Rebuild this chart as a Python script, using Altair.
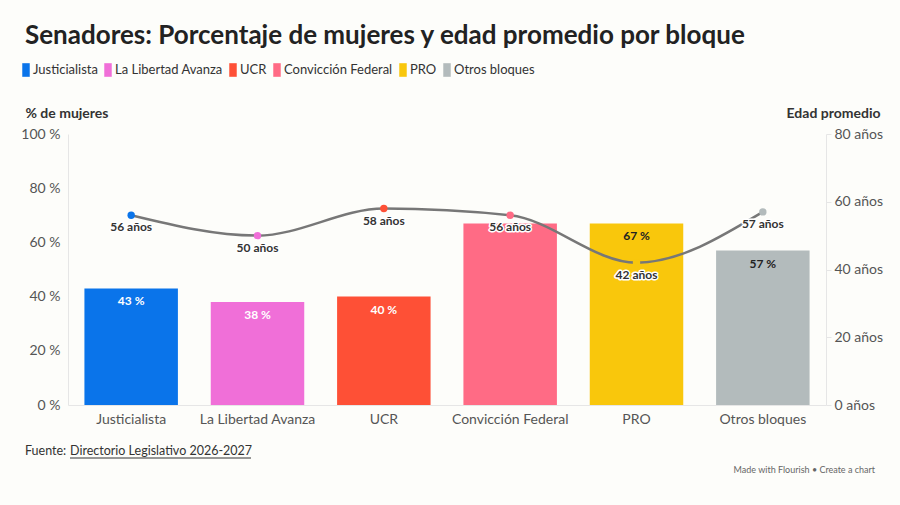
import altair as alt
import pandas as pd

# ---------------- data ----------------
bloques = ["Justicialista", "La Libertad Avanza", "UCR", "Convicción Federal", "PRO", "Otros bloques"]
pct_mujeres = [43, 38, 40, 67, 67, 57]
edad_promedio = [56, 50, 58, 56, 42, 57]
colores = ["#0a74ea", "#f06fd8", "#fe5036", "#ff6b85", "#f9c70c", "#b3bbbc"]
pct_ticks = [0, 20, 40, 60, 80, 100]
edad_ticks = [0, 20, 40, 60, 80]

titulo = "Senadores: Porcentaje de mujeres y edad promedio por bloque"
fuente_pre = "Fuente: "
fuente_link = "Directorio Legislativo 2026-2027"
credito = "Made with Flourish • Create a chart"

# bar labels hidden where they collide with an age label, dark text on light bars
ocultar_label = {"Convicción Federal"}
label_oscuro = {"PRO", "Otros bloques"}

df = pd.DataFrame({
    "bloque": bloques,
    "pct": pct_mujeres,
    "edad": edad_promedio,
})
df["pct_txt"] = df["pct"].astype(str) + " %"
df["edad_txt"] = df["edad"].astype(str) + " años"
df["mostrar"] = ~df["bloque"].isin(ocultar_label)
df["oscuro"] = df["bloque"].isin(label_oscuro)

FONT = "Lato"
W, H = 758, 271

x_enc = alt.X("bloque:N", sort=bloques, title=None,
              scale=alt.Scale(paddingInner=0.26, paddingOuter=0.13),
              axis=alt.Axis(labelAngle=0, labelColor="#555", labelFontSize=14, labelFont=FONT,
                            ticks=False, domainColor="#e6e6e6", labelPadding=7))
color_scale = alt.Scale(domain=bloques, range=colores)

y_pct = alt.Y("pct:Q", scale=alt.Scale(domain=[0, 100]),
              axis=alt.Axis(values=pct_ticks, labelExpr="datum.value + ' %'", grid=False,
                            ticks=False, domainColor="#e6e6e6", labelColor="#555",
                            labelFontSize=14, labelFont=FONT, labelPadding=8,
                            title="% de mujeres", titleAngle=0, titleAlign="left",
                            titleBaseline="middle", titleX=-43, titleY=-21,
                            titleFont=FONT, titleFontSize=14, titleFontWeight="bold",
                            titleColor="#333"))

y_edad = alt.Y("edad:Q", scale=alt.Scale(domain=[0, 80]),
               axis=alt.Axis(orient="right", values=edad_ticks, labelExpr="datum.value + ' años'",
                             grid=False, ticks=True, tickSize=5, tickColor="#e6e6e6",
                             domainColor="#e6e6e6", labelColor="#555", labelFontSize=14,
                             labelFont=FONT, labelPadding=3,
                             title="Edad promedio", titleAngle=0, titleAlign="right",
                             titleBaseline="middle", titleX=54, titleY=-21,
                             titleFont=FONT, titleFontSize=14, titleFontWeight="bold",
                             titleColor="#333"))

base = alt.Chart(df)

bars = base.mark_bar().encode(
    x=x_enc,
    y=y_pct,
    color=alt.Color("bloque:N", sort=bloques, scale=color_scale, title=None,
                    legend=alt.Legend(orient="none", legendX=-49, legendY=-71,
                                      direction="horizontal", columns=6,
                                      symbolType="M-0.55,-1H0.55V1H-0.55Z", symbolSize=185,
                                      symbolStrokeWidth=0, symbolOpacity=1,
                                      labelFont=FONT, labelFontSize=13, labelColor="#333",
                                      labelOffset=0, columnPadding=3)),
)

bar_labels = base.transform_filter("datum.mostrar").mark_text(
    font=FONT, fontSize=12, fontWeight="bold", baseline="middle", dy=13
).encode(
    x=alt.X("bloque:N", sort=bloques),
    y=y_pct,
    text="pct_txt:N",
    color=alt.condition("datum.oscuro", alt.value("#222"), alt.value("#ffffff")),
)

titulo_mark = alt.Chart(pd.DataFrame({"t": [titulo]})).mark_text(
    font=FONT, fontSize=26, fontWeight="bold", color="#222", align="left", baseline="alphabetic"
).encode(text="t:N", x=alt.value(-43), y=alt.value(-90))

fuente1 = alt.Chart(pd.DataFrame({"t": [fuente_pre]})).mark_text(
    font=FONT, fontSize=12.5, color="#333", align="left", baseline="alphabetic"
).encode(text="t:N", x=alt.value(-43), y=alt.value(321))

fuente2 = alt.Chart(pd.DataFrame({"t": [fuente_link]})).mark_text(
    font=FONT, fontSize=12.5, color="#333", align="left", baseline="alphabetic"
).encode(text="t:N", x=alt.value(2), y=alt.value(321))

subrayado = alt.Chart(pd.DataFrame({"t": [fuente_link]})).mark_rule(
    color="#333", strokeWidth=1
).encode(x=alt.value(2), x2=alt.value(183), y=alt.value(324))

credito_mark = alt.Chart(pd.DataFrame({"t": [credito]})).mark_text(
    font=FONT, fontSize=9, color="#666", align="right", baseline="middle"
).encode(text="t:N", x=alt.value(807), y=alt.value(336))

left = alt.layer(bars, bar_labels, titulo_mark, fuente1, fuente2, subrayado, credito_mark)

line = base.mark_line(interpolate="monotone", color="#777", strokeWidth=2.5).encode(
    x=alt.X("bloque:N", sort=bloques), y=y_edad)

points = base.mark_circle(size=55, opacity=1).encode(
    x=alt.X("bloque:N", sort=bloques),
    y=y_edad,
    color=alt.Color("bloque:N", sort=bloques, scale=color_scale, legend=None),
)

halo = base.mark_text(font=FONT, fontSize=12, fontWeight="bold", baseline="middle", dy=12,
                      stroke="#ffffff", strokeWidth=3, strokeJoin="round", color="#ffffff").encode(
    x=alt.X("bloque:N", sort=bloques), y=y_edad, text="edad_txt:N")

age_labels = base.mark_text(font=FONT, fontSize=12, fontWeight="bold", baseline="middle", dy=12,
                            color="#333").encode(
    x=alt.X("bloque:N", sort=bloques), y=y_edad, text="edad_txt:N")

right = alt.layer(line, points, halo, age_labels)

chart = alt.layer(left, right).resolve_scale(y="independent", color="shared").properties(
    width=W, height=H,
    autosize=alt.AutoSizeParams(type="none"),
    padding={"left": 68, "top": 134, "right": 74, "bottom": 100},
    background="#fdfdfa",
).configure_view(stroke=None)

chart.save("out.html", embed_options={"renderer": "svg", "actions": False})
